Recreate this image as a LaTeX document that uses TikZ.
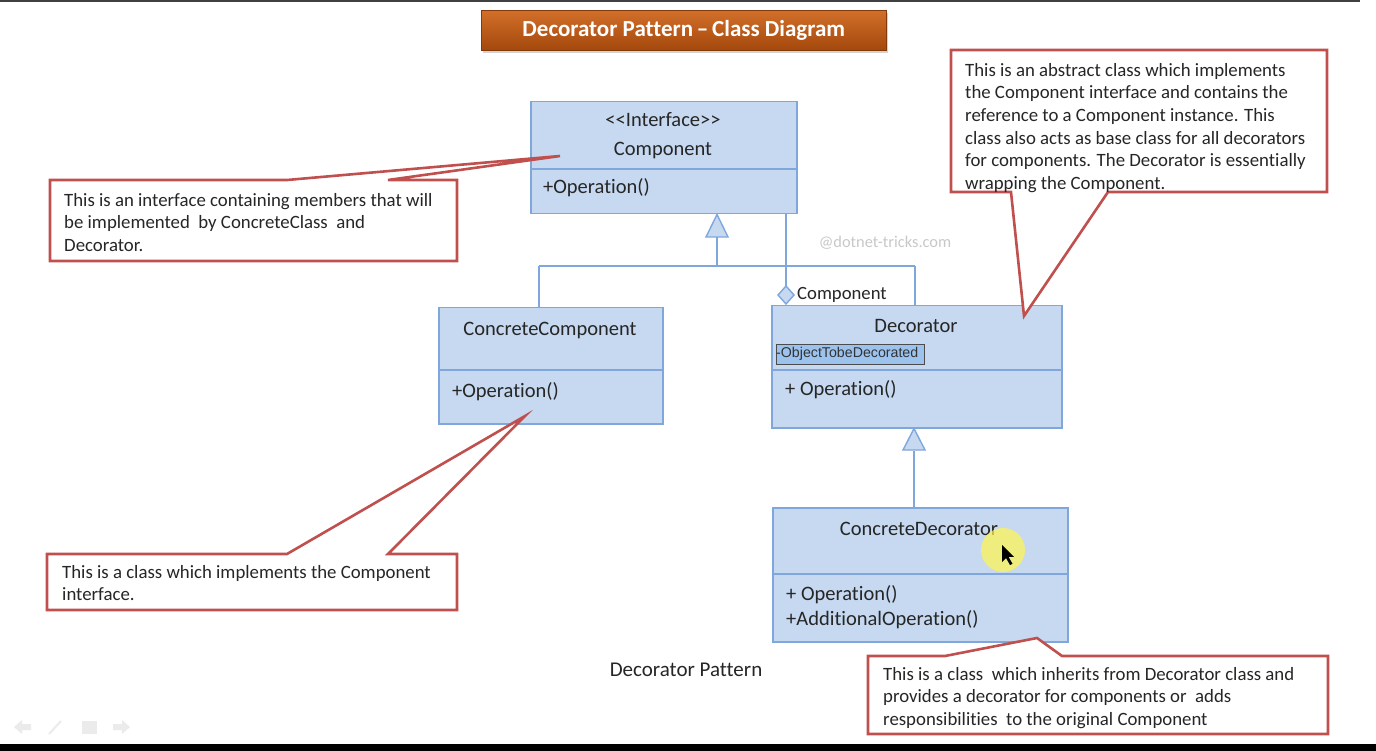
\documentclass[tikz,border=0pt]{standalone}
\usepackage{fontspec}
\setmainfont{Carlito}[Ligatures={TeX,NoCommon}]
\newfontfamily\arialf{Liberation Sans}
\usetikzlibrary{calc,shadows}
\definecolor{boxfill}{HTML}{C6D9F1}
\definecolor{boxline}{HTML}{7FA7DC}
\definecolor{callred}{HTML}{C0504D}
\definecolor{txt}{HTML}{262626}
\definecolor{titletop}{HTML}{D2702A}
\definecolor{titlebot}{HTML}{A4480C}
\definecolor{hilite}{HTML}{9CC3EE}
\definecolor{wmark}{HTML}{C8C8C8}
\tikzset{
  cls/.style={draw=boxline, fill=boxfill, line width=1.5pt, inner sep=0pt, anchor=north west},
  clsline/.style={draw=boxline, line width=1.5pt},
  conn/.style={draw=boxline, line width=1.4pt},
  ctext/.style={text=txt, font=\fontsize{20.5}{22}\selectfont, inner sep=0pt, text height=15pt, text depth=5pt},
  note/.style={draw=none, text=txt, font=\fontsize{18.8}{22.6}\selectfont, align=left, inner sep=0pt, anchor=north west},
  callout/.style={draw=callred, fill=white, line width=2.6pt, line join=miter},
  tri/.style={draw=boxline, fill=boxfill, line width=1.4pt},
}
\begin{document}
\begin{tikzpicture}[x=1pt,y=-1pt]
\useasboundingbox (0,0) rectangle (1376,751);
\fill[white] (0,0) rectangle (1376,751);
% frame lines
\fill[black!75] (0,0) rectangle (1360,2);
\fill[black] (0,744) rectangle (1376,751);

% title
\node[draw=titlebot!80!black, line width=0.6pt, top color=titletop, bottom color=titlebot,
      minimum width=405pt, minimum height=40pt, anchor=north west, inner sep=0pt,
      drop shadow={shadow xshift=2pt, shadow yshift=-3pt, opacity=0.35},
      text=white, font=\bfseries\fontsize{23}{25}\selectfont] (title) at (481,10)
      {Decorator Pattern\,--\,Class Diagram};

% watermark
\node[text=wmark, font=\fontsize{16.4}{18}\selectfont, inner sep=0pt] (wm) at (885,243) {@dotnet-tricks.com};

% ---------- classes ----------
\node[cls, minimum width=266pt, minimum height=112pt] (comp) at (530,101) {};
\draw[clsline] (comp.west |- 0,169) -- (comp.east |- 0,169);
\node[ctext] (compst) at (663,122) {<{}<Interface>{}>};
\node[ctext] (compnm) at (663,151) {Component};
\node[ctext, anchor=west] (compop) at (543,189) {+Operation()};

\node[cls, minimum width=224pt, minimum height=116pt] (cc) at (438,307) {};
\draw[clsline] (cc.west |- 0,370) -- (cc.east |- 0,370);
\node[ctext] (ccnm) at (550,330) {ConcreteComponent};
\node[ctext, anchor=west] (ccop) at (452,392) {+Operation()};

\node[cls, minimum width=290pt, minimum height=122pt] (dec) at (771,305) {};
\draw[clsline] (dec.west |- 0,370) -- (dec.east |- 0,370);
\node[ctext] (decnm) at (916,328) {Decorator};
\node[fill=hilite, draw=black!70, line width=0.5pt, minimum width=148pt, minimum height=20pt,
      anchor=north west, inner sep=0pt] (field) at (776,344) {};
\node[text=black!80, font=\arialf\fontsize{14.2}{15}\selectfont, inner sep=0pt, anchor=west] (fieldtx) at (776,354) {-ObjectTobeDecorated};
\node[ctext, anchor=west] (decop) at (785,390) {+ Operation()};

\node[cls, minimum width=295pt, minimum height=134pt] (cd) at (772,507) {};
\draw[clsline] (cd.west |- 0,574) -- (cd.east |- 0,574);
\node[ctext] (cdnm) at (919,530) {ConcreteDecorator};
\node[ctext, anchor=west] (cdop1) at (786,595) {+ Operation()};
\node[ctext, anchor=west] (cdop2) at (786,620) {+AdditionalOperation()};

% cursor highlight
\fill[yellow!70!white, opacity=0.7] (1003,550) circle (22pt);
\node[inner sep=0pt, minimum size=1pt] (cursor) at (1002,545) {};
\fill[black] (cursor.center) -- ++(0,17) -- ++(4,-4) -- ++(4,7) -- ++(2.5,-1.2) -- ++(-4,-7) -- ++(5.5,0) -- cycle;

% caption
\node[text=txt, font=\fontsize{21}{23}\selectfont, inner sep=0pt] (cap) at (686,670) {Decorator Pattern};

% ---------- connectors ----------
\coordinate (tri1) at (717,214);
\coordinate (bar1) at (717,266);
\draw[conn] (717,237) -- (bar1);
\draw[conn] (539,266) -- (915,266);
\draw[conn] (539,266) -- (cc.north -| 539,0);
\draw[conn] (915,266) -- (dec.north -| 915,0);
\draw[tri] (comp.south -| tri1) -- (706,237) -- (728,237) -- cycle;

% aggregation
\coordinate (dia) at (786,295);
\draw[conn] (comp.south -| dia) -- (786,286);
\draw[tri] (786,286) -- (794,295) -- (786,304) -- (778,295) -- cycle;
\node[text=txt, font=\fontsize{18.7}{20}\selectfont, inner sep=0pt, anchor=west] (agglbl) at (797,295) {Component};

% decorator inheritance
\draw[conn] (dec.south -| 914,0) ++(0,22) -- (cd.north -| 914,0);
\draw[tri] (dec.south -| 914,0) -- (903,450) -- (925,450) -- cycle;

% ---------- callouts ----------
\coordinate (tip1) at (560,156);
\draw[callout] (50,180) -- (287,180) -- (tip1) -- (388,180) -- (457,180) -- (457,261) -- (50,261) -- cycle;
\node[note] (n1) at (64,193) {This is an interface containing members that will\\be implemented\ \ by ConcreteClass\ \ and\\Decorator.};

\coordinate (tip2) at (525,416);
\draw[callout] (47,554) -- (287,554) -- (tip2) -- (388,554) -- (457,554) -- (457,610) -- (47,610) -- cycle;
\node[note] (n2) at (62,565) {This is a class which implements the Component\\interface.};

\coordinate (tip3) at (1024,316);
\draw[callout] (951,50) -- (1327,50) -- (1327,192) -- (1108,192) -- (tip3) -- (1011,192) -- (951,192) -- cycle;
\node[note] (n3) at (965,63) {This is an abstract class which implements\\the Component interface and contains the\\reference to a Component instance. This\\class also acts as base class for all decorators\\for components. The Decorator is essentially\\wrapping the Component.};

\coordinate (tip4) at (1037,638);
\draw[callout] (868,656) -- (945,656) -- (tip4) -- (1062,656) -- (1328,656) -- (1328,734) -- (868,734) -- cycle;
\node[note] (n4) at (883,667) {This is a class\ \ which inherits from Decorator class and\\provides a decorator for components or\ \ adds\\responsibilities\ \ to the original Component};

% faint slide navigation icons
\fill[black!8] (14,727) -- (22,720) -- (22,724) -- (31,724) -- (31,730) -- (22,730) -- (22,734) -- cycle;
\draw[black!8, line width=2pt] (49,734) -- (61,721);
\fill[black!8] (82,721) rectangle (97,734);
\fill[black!8] (113,724) -- (122,724) -- (122,720) -- (130,727) -- (122,734) -- (122,730) -- (113,730) -- cycle;
\end{tikzpicture}
\end{document}
